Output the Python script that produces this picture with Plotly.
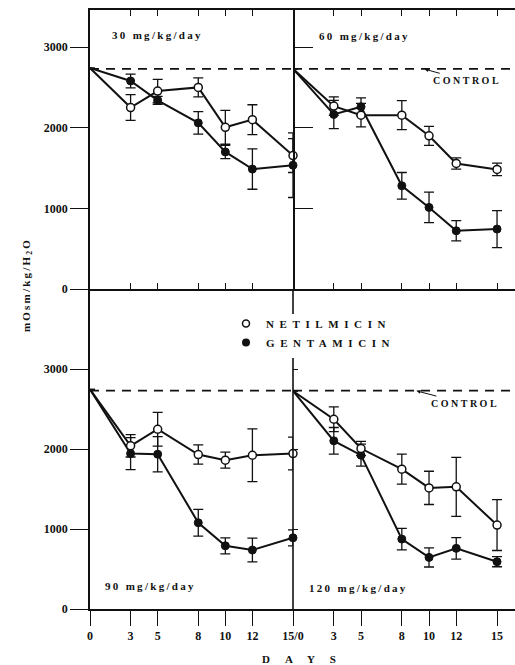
import plotly.graph_objects as go

# ---------------- data ----------------
days = [0, 3, 5, 8, 10, 12, 15]
control = 2730

doses = ["30 mg/kg/day", "60 mg/kg/day", "90 mg/kg/day", "120 mg/kg/day"]

net_30 = [2740, 2250, 2455, 2500, 2005, 2100, 1655]
net_30_se = [0, 160, 145, 118, 210, 185, 210]
gen_30 = [2740, 2580, 2340, 2060, 1700, 1487, 1535]
gen_30_se = [0, 85, 50, 140, 82, 250, 400]

net_60 = [2730, 2268, 2156, 2156, 1900, 1557, 1483]
net_60_se = [0, 115, 145, 180, 118, 70, 77]
gen_60 = [2730, 2165, 2260, 1280, 1012, 722, 743]
gen_60_se = [0, 175, 110, 165, 190, 125, 230]

net_90 = [2745, 2040, 2247, 1931, 1860, 1922, 1943]
net_90_se = [0, 140, 210, 120, 100, 330, 205]
gen_90 = [2745, 1943, 1935, 1078, 790, 737, 890]
gen_90_se = [0, 200, 220, 167, 100, 148, 100]

net_120 = [2725, 2372, 2006, 1748, 1514, 1527, 1049]
net_120_se = [0, 155, 90, 187, 208, 368, 318]
gen_120 = [2725, 2102, 1923, 874, 645, 758, 591]
gen_120_se = [0, 167, 137, 135, 120, 135, 63]

y_ticks = [0, 1000, 2000, 3000]
x_ticktext_left = ["0", "3", "5", "8", "10", "12", "15/0"]
x_tickvals_right = [3, 5, 8, 10, 12, 15]
x_ticktext_right = ["3", "5", "8", "10", "12", "15"]

# ---------------- layout helpers ----------------
W, H = 515, 665
def px_x(p):
    return p / W
def px_y(p):
    return (H - p) / H

SERIF = "Liberation Serif"
BLACK = "#111"

panels = [
    (net_30, net_30_se, gen_30, gen_30_se, "x", "y"),
    (net_60, net_60_se, gen_60, gen_60_se, "x2", "y2"),
    (net_90, net_90_se, gen_90, gen_90_se, "x3", "y3"),
    (net_120, net_120_se, gen_120, gen_120_se, "x4", "y4"),
]

# no marker at the common starting point (day 0)
def sizes(n, s):
    return [0] + [s] * (n - 1)

fig = go.Figure()

for net, net_se, gen, gen_se, xa, ya in panels:
    fig.add_trace(go.Scatter(
        x=days, y=gen, xaxis=xa, yaxis=ya, mode="lines+markers",
        line=dict(color=BLACK, width=2),
        marker=dict(symbol="circle", size=sizes(len(days), 8), color=BLACK, opacity=1,
                    line=dict(color=BLACK, width=1)),
        error_y=dict(type="data", array=gen_se, color=BLACK, thickness=1.3, width=5),
        showlegend=False, cliponaxis=False,
    ))
    fig.add_trace(go.Scatter(
        x=days, y=net, xaxis=xa, yaxis=ya, mode="lines+markers",
        line=dict(color=BLACK, width=2),
        marker=dict(symbol="circle", size=sizes(len(days), 8), color="white", opacity=1,
                    line=dict(color=BLACK, width=1.5)),
        error_y=dict(type="data", array=net_se, color=BLACK, thickness=1.3, width=5),
        showlegend=False, cliponaxis=False,
    ))

# legend-only entries
fig.add_trace(go.Scatter(
    x=[None], y=[None], mode="markers", name="NETILMICIN",
    marker=dict(symbol="circle", size=7, color="white", line=dict(color=BLACK, width=1.5)),
))
fig.add_trace(go.Scatter(
    x=[None], y=[None], mode="markers", name="GENTAMICIN",
    marker=dict(symbol="circle", size=8, color=BLACK),
))

# ---------------- axes ----------------
xl = [px_x(90), px_x(293)]
xr = [px_x(293), 1.0]
yt = [px_y(289), px_y(10)]
yb = [px_y(609), px_y(289)]

tickfont = dict(family=SERIF, size=12, color=BLACK, weight="bold")

common_x = dict(showgrid=False, zeroline=False, showline=True, linecolor=BLACK,
                linewidth=1.6, tickcolor=BLACK, tickwidth=1.4,
                automargin=False, fixedrange=True)
common_y = dict(showgrid=False, zeroline=False, showline=True, linecolor=BLACK,
                linewidth=1.6, tickcolor=BLACK, tickwidth=1.4, tickvals=y_ticks,
                automargin=False, fixedrange=True)

fig.update_layout(
    xaxis=dict(**common_x, domain=xl, range=[0, 15], anchor="y", ticks="inside",
               tickvals=days, ticklen=6, mirror="ticks", showticklabels=False),
    xaxis2=dict(**common_x, domain=xr, range=[0, 16.32], anchor="y2", ticks="inside",
                tickvals=days, ticklen=6, mirror="ticks", showticklabels=False),
    xaxis3=dict(**common_x, domain=xl, range=[0, 15], anchor="y3", ticks="outside",
                tickvals=days, ticklen=15, ticktext=x_ticktext_left, tickfont=tickfont),
    xaxis4=dict(**common_x, domain=xr, range=[0, 16.32], anchor="y4", ticks="outside",
                tickvals=x_tickvals_right, ticklen=15, ticktext=x_ticktext_right,
                tickfont=tickfont),
    yaxis=dict(**common_y, domain=yt, range=[0, 3460], anchor="x", ticks="outside",
               ticklen=18, mirror="ticks", tickfont=tickfont),
    yaxis2=dict(**{**common_y, "showline": False}, domain=yt, range=[0, 3460],
                anchor="x2", ticks="inside", ticklen=5, showticklabels=False),
    yaxis3=dict(**common_y, domain=yb, range=[0, 4000], anchor="x3", ticks="outside",
                ticklen=18, tickfont=tickfont),
    yaxis4=dict(**{**common_y, "showline": False}, domain=yb, range=[0, 4000],
                anchor="x4", ticks="inside", ticklen=5, showticklabels=False),
)

# bottom-panel divider, interrupted by the legend
fig.add_shape(type="line", xref="x4 domain", yref="paper", x0=0, x1=0,
              y0=px_y(609), y1=px_y(358), line=dict(color=BLACK, width=1.6))
fig.add_shape(type="line", xref="x4 domain", yref="paper", x0=0, x1=0,
              y0=px_y(314), y1=px_y(289), line=dict(color=BLACK, width=1.6))

# control lines
for xa, ya in [("x", "y"), ("x2", "y2"), ("x3", "y3"), ("x4", "y4")]:
    fig.add_shape(type="line", xref=f"{xa} domain", yref=ya, x0=0,
                  x1=0.99 if xa in ("x2", "x4") else 1,
                  y0=control, y1=control,
                  line=dict(color=BLACK, width=1.6, dash="9px,7px"))

# ---------------- text ----------------
def spaced(t, ls):
    return f'<span style="letter-spacing:{ls}px">{t}</span>'

labfont = dict(family=SERIF, size=11, color=BLACK)
label_pos = [(110, 35), (317, 36), (103, 586), (307, 588)]
for dose, (lx, ly) in zip(doses, label_pos):
    fig.add_annotation(text="<b>" + spaced(dose, 2.3) + "</b>", xref="paper", yref="paper",
                       x=px_x(lx), y=px_y(ly), xanchor="left", yanchor="middle",
                       showarrow=False, font=labfont)

for xa, ya, tx, ty, hx, hy in [("x2", "y2", 467, 83, 9.6, 71), ("x4", "y4", 465, 405, 9.0, 392)]:
    fig.add_annotation(text="<b>" + spaced("CONTROL", 2.5) + "</b>", xref=xa, yref=ya,
                       x=hx, y=control, ax=tx - (293 + hx * 13.6), ay=ty - hy,
                       showarrow=True, arrowhead=2, arrowsize=0.8, arrowwidth=1,
                       arrowcolor=BLACK, standoff=1, startstandoff=2,
                       font=dict(family=SERIF, size=10, color=BLACK))

fig.add_annotation(text="<b>" + spaced("mOsm/kg/H<sub>2</sub>O", 2.2) + "</b>",
                   xref="paper", yref="paper", x=px_x(18), y=px_y(285), textangle=-90,
                   showarrow=False, font=dict(family=SERIF, size=11, color=BLACK))

fig.add_annotation(text="<b>" + spaced("DAYS", 15) + "</b>", xref="paper", yref="paper",
                   x=px_x(306), y=px_y(659), yanchor="middle", showarrow=False,
                   font=dict(family=SERIF, size=11, color=BLACK))

fig.update_layout(
    width=W, height=H,
    margin=dict(l=0, r=0, t=0, b=0),
    paper_bgcolor="white", plot_bgcolor="white",
    showlegend=True,
    legend=dict(x=px_x(226), y=px_y(309), xanchor="left", yanchor="top",
                bgcolor="rgba(0,0,0,0)", tracegroupgap=0, itemwidth=30,
                font=dict(family=SERIF, size=11, color=BLACK)),
)
fig.data[-2].name = "<b>" + spaced("NETILMICIN", 5.6) + "</b>"
fig.data[-1].name = "<b>" + spaced("GENTAMICIN", 5.6) + "</b>"

fig.write_html("out.html")
